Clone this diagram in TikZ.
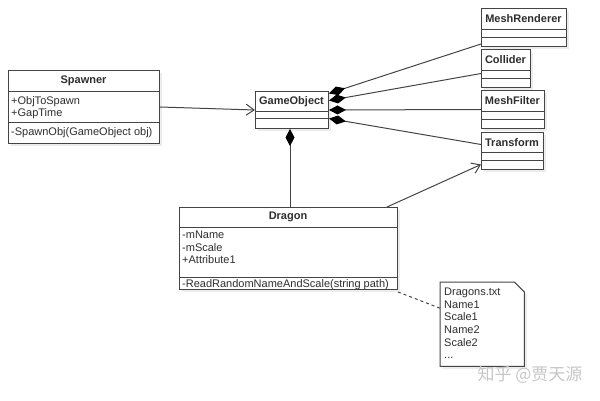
\documentclass[tikz,border=0pt]{standalone}
\usepackage{fontspec}
\setmainfont{Liberation Sans}
\newfontfamily\cjk{Noto Sans CJK SC}
\usetikzlibrary{arrows.meta, positioning, calc}
\definecolor{umlline}{HTML}{444444}
\definecolor{umltext}{HTML}{2E2E2E}
\tikzset{
  cls/.style={draw=umlline, fill=white, line width=1pt, anchor=north west, inner sep=0pt},
  ttl/.style={font=\fontsize{11}{12.6}\selectfont\bfseries, text=umltext, inner sep=0pt},
  mbr/.style={font=\fontsize{11}{12.6}\selectfont, text=umltext, inner sep=0pt, anchor=north west, align=left},
  link/.style={draw=umlline, line width=1pt},
  comp/.style={link, {Diamond[length=17pt,width=9pt,color=black,fill=black]}-},
  assoc/.style={link, -{Straight Barb[length=8pt,width=11pt]}},
}

\begin{document}
\begin{tikzpicture}[x=1pt, y=-1pt]
\useasboundingbox (0,0) rectangle (600,401);
\foreach \nm/\x/\y/\w/\h/\ttl/\da/\db in {
    spawner/8/70/151/73/Spawner/22/53,
    gameobject/255/91/73/37/GameObject/21/28,
    meshrenderer/481/8/85/38/MeshRenderer/22/30,
    collider/481/49/49/38/Collider/22/30,
    meshfilter/481/90/63/38/MeshFilter/22/30,
    transform/481/132/62/37/Transform/21/29,
    dragon/179/207/218/82/Dragon/20/70
} {
    \fill[gray!15] (\x+3,\y+3) rectangle ++(\w,\h);
    \node[cls, minimum width=\w pt, minimum height=\h pt] (\nm) at (\x,\y) {};
    \node[ttl] (\nm-title) at (\x+\w/2,\y+\da/2) {\ttl};
    \draw[umlline, line width=1pt] (\x,\y+\da) -- ++(\w,0);
    \draw[umlline, line width=1pt] (\x,\y+\db) -- ++(\w,0);
}
\node[mbr] (spawner-attr) at (11,96) {+ObjToSpawn\\+GapTime};
\node[mbr] (spawner-ops) at (11,127) {-SpawnObj(GameObject obj)};
\node[mbr] (dragon-attr) at (182,231) {-mName\\-mScale\\+Attribute1};
\node[mbr] (dragon-ops) at (182,279.5) {-ReadRandomNameAndScale(string path)};

% note
\fill[gray!15] (443,285) -- (517,285) -- (527,295) -- (527,369) -- (443,369) -- cycle;
\node[inner sep=0pt, minimum width=84pt, minimum height=84pt, anchor=north west] (note) at (440,282) {};
\draw[link, fill=white] (note.north west) -- ([xshift=-10pt]note.north east) -- ([yshift=-10pt]note.north east)
    -- (note.south east) -- (note.south west) -- cycle;
\node[mbr] (note-text) at (444,288) {Dragons.txt\\Name1\\Scale1\\Name2\\Scale2\\...};

\draw[assoc] (spawner.east) -- (gameobject.west);
\draw[comp] ([yshift=16.5pt]gameobject.east) -- ([yshift=3pt]meshrenderer.south west);
\draw[comp] ([yshift=9.5pt]gameobject.east) -- ([yshift=-5pt]collider.west);
\draw[comp] (gameobject.east) -- (meshfilter.west);
\draw[comp] ([yshift=-8.5pt]gameobject.east) -- ([yshift=6.5pt]transform.west);
\draw[comp] ([xshift=-2pt]gameobject.south) -- ([xshift=-2pt]gameobject.south |- dragon.north);
\draw[assoc] ([xshift=-11pt]dragon.north east) -- ([yshift=-13.5pt]transform.west);
\draw[link, dashed] ([yshift=-2pt]dragon.south east) -- ([yshift=16pt]note.west);

\node[font=\cjk\fontsize{17}{17}\selectfont, text=gray!45, inner sep=0pt] (mark) at (530,375) {知乎 @贾天源};
\end{tikzpicture}
\end{document}
